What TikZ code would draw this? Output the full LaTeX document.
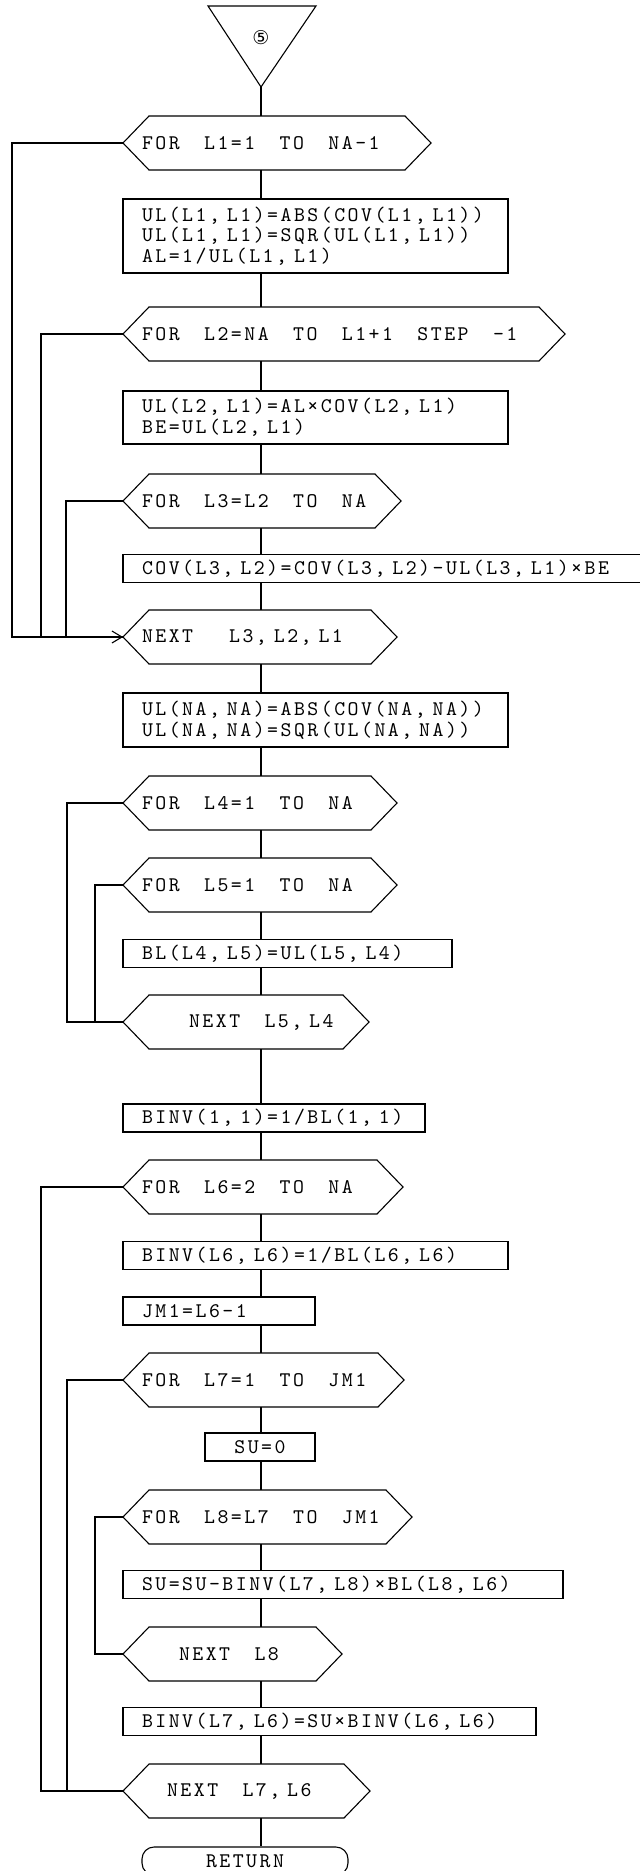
\documentclass[tikz,border=0pt]{standalone}
\usepackage{fontspec}
\usepackage{tikz}
\setmonofont{lmmono10-regular.otf}[LetterSpace=12]
\newfontfamily\circfont{DejaVu Sans}
\usetikzlibrary{arrows.meta, calc}
\newcommand\flowfont{\ttfamily\fontsize{10.4pt}{10.3pt}\selectfont}
\newcommand\wsp{\hspace{12.2pt}}

\begin{document}
\begin{tikzpicture}[
    x=0.5pt, y=-0.5pt, line width=0.55pt,
    flowbox/.style={draw, rectangle, anchor=west, inner xsep=9.5pt, inner ysep=0pt, outer sep=0pt, align=left, font=\flowfont, minimum height=14pt},
    loopbox/.style={rectangle, anchor=west, inner xsep=9.5pt, inner ysep=0pt, outer sep=0pt, align=left, font=\flowfont, minimum height=27pt},
    endbox/.style={draw, rectangle, rounded corners=6pt, font=\flowfont, minimum width=103pt, minimum height=14pt, inner sep=0pt},
    plain/.style={},
    into/.style={-{Straight Barb[length=5pt, width=6pt]}}
]
    \path[use as bounding box, fill=white] (0,0) rectangle (639,1871);
    \coordinate (spine) at (261,0);

    % Connector 5
    \coordinate (con5tip) at (261,87);
    \node[font=\circfont\fontsize{9.5pt}{9.5pt}\selectfont] (con5) at (261,38) {⑤};
    \draw (con5tip) -- (208,6) -- (316,6) -- cycle;

    % First loop nest
    \node[loopbox, text width=135pt] (forL1) at (123,143) {FOR\wsp L1=1\wsp TO\wsp NA-1};
    \node[flowbox, text width=173.5pt, minimum height=37pt] (box1) at (123,236) {UL(L1, L1)=ABS(COV(L1, L1))\\UL(L1, L1)=SQR(UL(L1, L1))\\AL=1/UL(L1, L1)};
    \node[loopbox, text width=202pt] (forL2) at (123,334) {FOR\wsp L2=NA\wsp TO\wsp L1+1\wsp STEP\wsp -1};
    \node[flowbox, text width=173.5pt, minimum height=26.5pt] (box2) at (123,417.5) {UL(L2, L1)=AL×COV(L2, L1)\\BE=UL(L2, L1)};
    \node[loopbox, text width=120pt] (forL3) at (123,501) {FOR\wsp L3=L2\wsp TO\wsp NA};
    \node[flowbox, text width=245pt] (cov) at (123,568.5) {COV(L3, L2)=COV(L3, L2)-UL(L3, L1)×BE};
    \node[loopbox, text width=118pt] (nextL1) at (123,637) {NEXT\hspace{18pt}L3, L2, L1};

    % Last diagonal element
    \node[flowbox, text width=173.5pt, minimum height=27pt] (box3) at (123,720) {UL(NA, NA)=ABS(COV(NA, NA))\\UL(NA, NA)=SQR(UL(NA, NA))};

    % Transpose
    \node[loopbox, text width=118pt] (forL4) at (123,803) {FOR\wsp L4=1\wsp TO\wsp NA};
    \node[loopbox, text width=118pt] (forL5) at (123,885) {FOR\wsp L5=1\wsp TO\wsp NA};
    \node[flowbox, text width=145.5pt] (bl) at (123,953.5) {BL(L4, L5)=UL(L5, L4)};
    \node[loopbox, text width=104pt] (nextL4) at (123,1022) {\hspace*{23.5pt}NEXT\wsp L5, L4};

    % Inverse
    \node[flowbox, text width=132pt] (binv11) at (123,1118) {BINV(1, 1)=1/BL(1, 1)};
    \node[loopbox, text width=121pt] (forL6) at (123,1187) {FOR\wsp L6=2\wsp TO\wsp NA};
    \node[flowbox, text width=173.5pt] (binv66) at (123,1255.5) {BINV(L6, L6)=1/BL(L6, L6)};
    \node[flowbox, text width=77pt] (jm1) at (123,1311) {JM1=L6-1};
    \node[loopbox, text width=121.5pt] (forL7) at (123,1380) {FOR\wsp L7=1\wsp TO\wsp JM1};
    \node[flowbox, text width=36pt, align=center] (su0) at (205,1447) {SU=0};
    \node[loopbox, text width=125.5pt] (forL8) at (123,1517) {FOR\wsp L8=L7\wsp TO\wsp JM1};
    \node[flowbox, text width=201pt] (susu) at (123,1584.5) {SU=SU-BINV(L7, L8)×BL(L8, L6)};
    \node[loopbox, text width=90.5pt] (nextL8) at (123,1654) {\hspace*{18.5pt}NEXT\wsp L8};
    \node[flowbox, text width=187.5pt] (binv76) at (123,1721.5) {BINV(L7, L6)=SU×BINV(L6, L6)};
    \node[loopbox, text width=104.5pt] (nextL6) at (123,1791) {\hspace*{12.5pt}NEXT\wsp L7, L6};

    % Return
    \node[endbox] (ret) at (245,1861) {RETURN};

    % Hexagon outlines
    \foreach \n in {forL1,forL2,forL3,nextL1,forL4,forL5,nextL4,forL6,forL7,forL8,nextL8,nextL6}
        \draw ([xshift=13pt]\n.north west) -- ([xshift=-13pt]\n.north east) -- (\n.east)
            -- ([xshift=-13pt]\n.south east) -- ([xshift=13pt]\n.south west) -- (\n.west) -- cycle;

    % Main line
    \draw (con5tip) -- (forL1.north -| spine);
    \foreach \a/\b in {forL1/box1, box1/forL2, forL2/box2, box2/forL3, forL3/cov, cov/nextL1,
        nextL1/box3, box3/forL4, forL4/forL5, forL5/bl, bl/nextL4, nextL4/binv11,
        binv11/forL6, forL6/binv66, binv66/jm1, jm1/forL7, forL7/su0, su0/forL8,
        forL8/susu, susu/nextL8, nextL8/binv76, binv76/nextL6, nextL6/ret}
        \draw (\a.south -| spine) -- (\b.north -| spine);

    % Loop returns
    \foreach \f/\n/\d/\s in {forL1/nextL1/111/plain, forL2/nextL1/82/plain, forL3/nextL1/57/into,
        forL4/nextL4/56/plain, forL5/nextL4/28/plain,
        forL6/nextL6/82/plain, forL7/nextL6/56/plain, forL8/nextL8/28/plain}
        \draw[\s] (\f.west) -- ++(-\d,0) |- (\n.west);
\end{tikzpicture}
\end{document}
